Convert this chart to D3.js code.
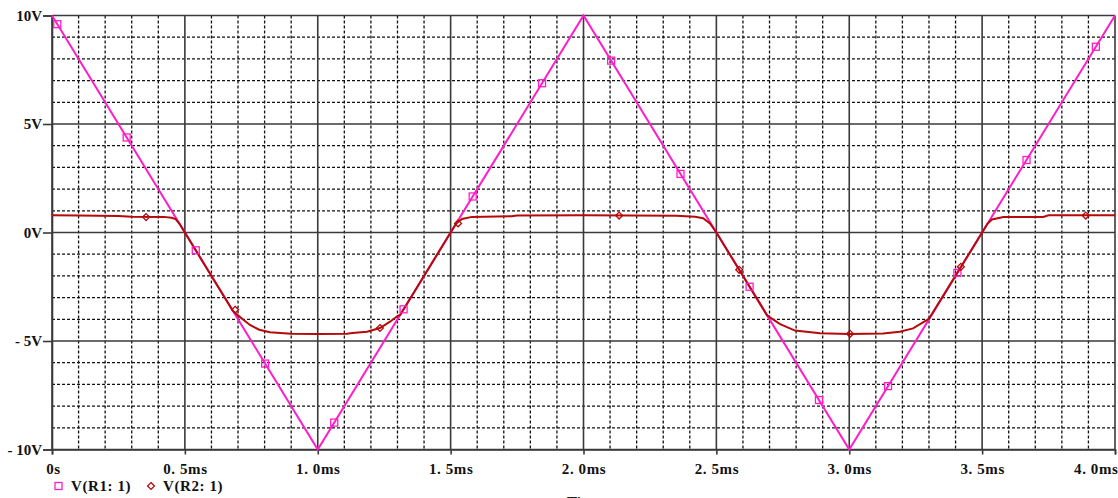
<!DOCTYPE html>
<html>
<head>
<meta charset="utf-8">
<script src="https://cdn.jsdelivr.net/npm/d3@7"></script>
<style>
  body { margin: 0; background: #fff; }
  svg text { font-family: "Liberation Serif", "DejaVu Serif", serif; font-weight: bold; font-size: 15px; fill: #111; }
</style>
</head>
<body>
<div id="chart"></div>
<script>
// V(R1:1) triangle wave corners (ms, V)
const r1Time = [0, 1, 2, 3, 4];
const r1Volt = [10, -10, 10, -10, 10];

// V(R2:1) clipped wave (ms, V)
const r2Points = [
  [0.00, 0.79], [0.10, 0.78], [0.25, 0.76], [0.30, 0.73], [0.42, 0.72],
  [0.45, 0.68], [0.465, 0.62], [0.48, 0.40], [0.50, 0.00], [0.60, -2.00],
  [0.68, -3.60], [0.70, -3.82], [0.72, -4.02], [0.745, -4.26], [0.78, -4.48],
  [0.82, -4.60], [0.90, -4.67], [1.00, -4.68], [1.11, -4.67], [1.13, -4.63],
  [1.185, -4.57], [1.234, -4.40], [1.272, -4.11], [1.30, -3.85], [1.31, -3.80],
  [1.50, 0.00], [1.52, 0.40], [1.543, 0.62], [1.58, 0.72], [1.73, 0.75],
  [1.75, 0.78], [2.00, 0.79], [2.35, 0.77], [2.42, 0.73], [2.45, 0.66],
  [2.476, 0.42], [2.50, 0.00], [2.586, -1.72], [2.69, -3.80], [2.70, -3.90],
  [2.74, -4.22], [2.796, -4.52], [2.89, -4.64], [3.00, -4.68], [3.127, -4.65],
  [3.19, -4.57], [3.24, -4.42], [3.29, -4.05], [3.30, -3.98], [3.50, 0.00],
  [3.52, 0.40], [3.537, 0.60], [3.58, 0.71], [3.73, 0.72], [3.75, 0.79],
  [4.00, 0.80]
];

// marker positions on each trace
const r1Markers = [0.02, 0.281, 0.541, 0.802, 1.062, 1.323, 1.583, 1.844,
  2.104, 2.365, 2.625, 2.886, 3.146, 3.407, 3.667, 3.928];
const r2Markers = [[0.354, 0.71], [0.689, -3.56], [1.234, -4.40], [1.528, 0.42],
  [2.134, 0.78], [2.586, -1.72], [3.003, -4.67], [3.42, -1.58], [3.89, 0.78]];

// tick labels
const xTicks = [0, 0.5, 1, 1.5, 2, 2.5, 3, 3.5, 4];
const xTickLabels = ['0s', '0. 5ms', '1. 0ms', '1. 5ms', '2. 0ms', '2. 5ms', '3. 0ms', '3. 5ms', '4. 0ms'];
const yTicks = [10, 5, 0, -5, -10];
const yTickLabels = ['10V', '5V', '0V', '- 5V', '- 10V'];
const legendNames = ['V(R1: 1)', 'V(R2: 1)'];

const pink = '#ff1ec8';
const red = '#b40a0a';

const W = 1118, H = 498;
const margin = { top: 15.5, right: 3, bottom: 48.5, left: 52 };

const svg = d3.select('#chart').append('svg')
  .attr('width', W).attr('height', H);

const x = d3.scaleLinear().domain([0, 4]).range([margin.left, W - margin.right]);
const y = d3.scaleLinear().domain([-10, 10]).range([H - margin.bottom, margin.top]);

// minor dashed grid
const grid = svg.append('g');
grid.selectAll('.vminor')
  .data(d3.range(0, 41).filter((i) => i % 5 !== 0).map((i) => i / 10))
  .enter().append('line')
  .attr('x1', (d) => x(d)).attr('x2', (d) => x(d))
  .attr('y1', y(10)).attr('y2', y(-10))
  .attr('stroke', '#111').attr('stroke-width', 1.3)
  .attr('stroke-dasharray', '3,2');
grid.selectAll('.hminor')
  .data(d3.range(-10, 11).filter((v) => v % 5 !== 0))
  .enter().append('line')
  .attr('x1', x(0)).attr('x2', x(4))
  .attr('y1', (d) => y(d)).attr('y2', (d) => y(d))
  .attr('stroke', '#111').attr('stroke-width', 1.3)
  .attr('stroke-dasharray', '3,2');

// major solid grid
grid.selectAll('.vmajor')
  .data(xTicks)
  .enter().append('line')
  .attr('x1', (d) => x(d)).attr('x2', (d) => x(d))
  .attr('y1', y(10)).attr('y2', y(-10))
  .attr('stroke', '#3a3a3a').attr('stroke-width', 1.6);
grid.selectAll('.hmajor')
  .data(yTicks)
  .enter().append('line')
  .attr('x1', x(0)).attr('x2', x(4))
  .attr('y1', (d) => y(d)).attr('y2', (d) => y(d))
  .attr('stroke', '#3a3a3a').attr('stroke-width', 1.6);

// axes
const xAxis = svg.append('g')
  .attr('transform', `translate(0,${y(-10)})`)
  .call(d3.axisBottom(x).tickValues(xTicks).tickSize(5).tickPadding(9)
    .tickFormat((d, i) => xTickLabels[i]));
const yAxis = svg.append('g')
  .attr('transform', `translate(${x(0)},0)`)
  .call(d3.axisLeft(y).tickValues(yTicks).tickSize(9).tickPadding(1)
    .tickFormat((d, i) => yTickLabels[i]));
[xAxis, yAxis].forEach((a) => {
  a.select('.domain').attr('stroke', '#3a3a3a').attr('stroke-width', 1.6);
  a.selectAll('.tick line').attr('stroke', '#3a3a3a').attr('stroke-width', 1.6);
  a.selectAll('text').attr('font-family', null).attr('font-size', null).attr('fill', '#111');
});
xAxis.selectAll('text').style('letter-spacing', '0.6px');
xAxis.selectAll('.tick').filter((d) => d === 4).select('text').attr('text-anchor', 'end').attr('dx', 3);
xAxis.selectAll('.tick').filter((d) => d === 0).select('text').attr('dx', 1);

// traces
const line = d3.line().x((d) => x(d[0])).y((d) => y(d[1]));
const r1Points = r1Time.map((t, i) => [t, r1Volt[i]]);
const r1Interp = (t) => {
  const i = Math.min(Math.floor(t), 3);
  return r1Volt[i] + (r1Volt[i + 1] - r1Volt[i]) * (t - r1Time[i]);
};

svg.append('path').datum(r1Points)
  .attr('d', line).attr('fill', 'none')
  .attr('stroke', pink).attr('stroke-width', 2);
svg.append('path').datum(r2Points)
  .attr('d', line).attr('fill', 'none')
  .attr('stroke', red).attr('stroke-width', 2);

// markers
svg.selectAll('.sq')
  .data(r1Markers)
  .enter().append('rect')
  .attr('x', (d) => x(d) - 3.5).attr('y', (d) => y(r1Interp(d)) - 3.5)
  .attr('width', 7).attr('height', 7)
  .attr('fill', 'none').attr('stroke', pink).attr('stroke-width', 1.3);
svg.selectAll('.dm')
  .data(r2Markers)
  .enter().append('path')
  .attr('d', d3.symbol().type(d3.symbolDiamond2).size(30))
  .attr('transform', (d) => `translate(${x(d[0])},${y(d[1])})`)
  .attr('fill', 'none').attr('stroke', red).attr('stroke-width', 1.3);

// legend
const legend = svg.append('g').attr('transform', 'translate(0,486)');
legend.append('rect')
  .attr('x', 55).attr('y', -3.5).attr('width', 7).attr('height', 7)
  .attr('fill', 'none').attr('stroke', pink).attr('stroke-width', 1.3);
legend.append('text').attr('x', 71).attr('y', 5).text(legendNames[0]).style('letter-spacing', '0.6px');
legend.append('path')
  .attr('d', d3.symbol().type(d3.symbolDiamond2).size(30))
  .attr('transform', 'translate(151,0)')
  .attr('fill', 'none').attr('stroke', red).attr('stroke-width', 1.3);
legend.append('text').attr('x', 163).attr('y', 5).text(legendNames[1]).style('letter-spacing', '0.6px');

// x title, mostly cut off by the bottom edge as in the original plot
svg.append('text')
  .attr('x', (x(0) + x(4)) / 2).attr('y', 507)
  .attr('text-anchor', 'middle')
  .text('Time');
</script>
</body>
</html>
